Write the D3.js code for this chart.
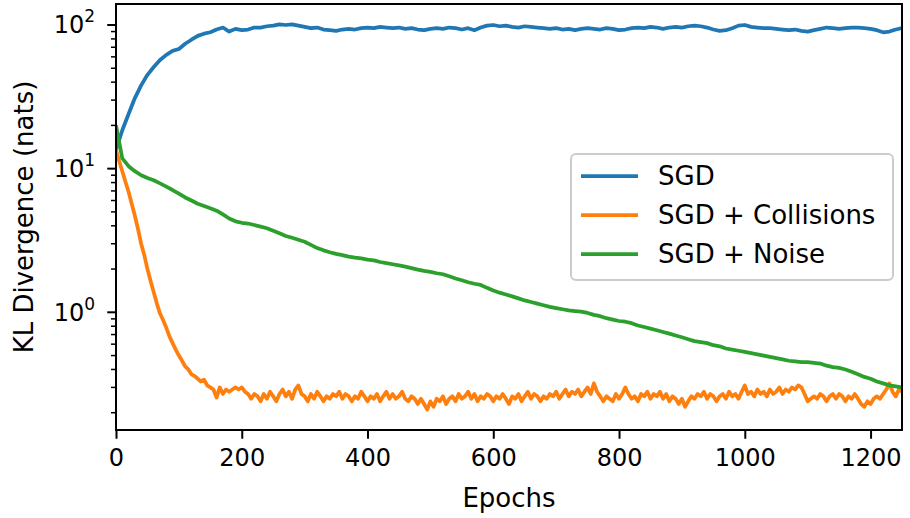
<!DOCTYPE html>
<html>
<head>
<meta charset="utf-8">
<script src="https://cdn.jsdelivr.net/npm/d3@7"></script>
<style>
  body { margin: 0; background: #fff; }
  svg { display: block; font-family: "DejaVu Sans", sans-serif; }
</style>
</head>
<body>
<div id="chart"></div>
<script>
// ---- data ----
var sgd_epochs = d3.range(0, 1251, 10);
var sgd_values = [
  13.5, 18.5, 24, 31, 38, 45, 51, 57, 62, 66,
  68, 74, 79, 84, 87, 89, 93, 96, 90, 94,
  92, 93, 96, 96, 98, 99, 101, 100, 101, 99,
  97, 95, 96, 93, 92, 91, 93, 94, 93, 95,
  96, 95, 97, 96, 95, 96, 94, 95, 93, 92,
  94, 95, 94, 96, 95, 93, 95, 92, 96, 99,
  100, 98, 99, 97, 96, 98, 97, 96, 95, 94,
  95, 93, 94, 92, 94, 95, 94, 93, 95, 94,
  92, 93, 95, 96, 95, 97, 96, 94, 96, 97,
  96, 98, 99, 98, 96, 93, 91, 92, 95, 99,
  100, 97, 96, 95, 95, 94, 93, 92, 93, 91,
  90, 92, 94, 96, 95, 94, 95, 96, 96, 95,
  94, 92, 89, 90, 93, 95
];

var coll_epochs = d3.range(0, 1251, 5);
var coll_values = [
  13.5, 11.3, 9.6, 8.1, 6.9, 5.7, 4.7, 3.8, 3.0, 2.5,
  2.0, 1.65, 1.38, 1.15, 0.98, 0.88, 0.78, 0.68, 0.61, 0.55,
  0.50, 0.46, 0.42, 0.40, 0.37, 0.36, 0.345, 0.33, 0.34, 0.31,
  0.30, 0.29, 0.255, 0.30, 0.27, 0.29, 0.28, 0.29, 0.30, 0.29,
  0.30, 0.28, 0.27, 0.25, 0.27, 0.26, 0.24, 0.27, 0.25, 0.28,
  0.26, 0.24, 0.27, 0.29, 0.26, 0.28, 0.25, 0.29, 0.31, 0.27,
  0.26, 0.24, 0.27, 0.25, 0.28, 0.26, 0.24, 0.26, 0.25, 0.27,
  0.26, 0.28, 0.25, 0.27, 0.26, 0.24, 0.26, 0.25, 0.28, 0.26,
  0.24, 0.26, 0.25, 0.27, 0.24, 0.26, 0.28, 0.25, 0.27, 0.25,
  0.26, 0.28, 0.25, 0.24, 0.26, 0.25, 0.23, 0.25, 0.23, 0.21,
  0.24, 0.22, 0.25, 0.24, 0.26, 0.23, 0.25, 0.26, 0.24, 0.27,
  0.25, 0.26, 0.28, 0.25, 0.27, 0.24, 0.26, 0.25, 0.27, 0.26,
  0.24, 0.26, 0.25, 0.27, 0.25, 0.23, 0.26, 0.25, 0.27, 0.24,
  0.26, 0.28, 0.25, 0.27, 0.26, 0.24, 0.26, 0.25, 0.27, 0.26,
  0.28, 0.25, 0.27, 0.29, 0.26, 0.28, 0.27, 0.29, 0.26, 0.28,
  0.30, 0.27, 0.32, 0.28, 0.26, 0.24, 0.26, 0.25, 0.24, 0.27,
  0.25, 0.27, 0.30, 0.27, 0.25, 0.26, 0.24, 0.27, 0.26, 0.28,
  0.25, 0.27, 0.26, 0.28, 0.25, 0.27, 0.24, 0.26, 0.25, 0.23,
  0.25, 0.22, 0.24, 0.26, 0.25, 0.27, 0.26, 0.28, 0.25, 0.27,
  0.26, 0.24, 0.26, 0.27, 0.25, 0.28, 0.26, 0.27, 0.25, 0.28,
  0.31, 0.27, 0.28, 0.26, 0.29, 0.27, 0.28, 0.26, 0.29, 0.27,
  0.28, 0.30, 0.27, 0.29, 0.28, 0.30, 0.29, 0.31, 0.30, 0.27,
  0.24, 0.25, 0.26, 0.25, 0.27, 0.26, 0.24, 0.26, 0.27, 0.25,
  0.27, 0.26, 0.24, 0.26, 0.25, 0.27, 0.25, 0.23, 0.22, 0.24,
  0.23, 0.25, 0.26, 0.25, 0.27, 0.29, 0.32, 0.28, 0.26, 0.29,
  0.28
];

var noise_epochs = d3.range(0, 1251, 10);
var noise_values = [
  20, 11.8, 10.4, 9.6, 9.0, 8.6, 8.3, 7.9, 7.5, 7.1,
  6.7, 6.3, 6.0, 5.7, 5.5, 5.3, 5.1, 4.8, 4.5, 4.3,
  4.2, 4.15, 4.05, 3.95, 3.85, 3.7, 3.55, 3.4, 3.3, 3.2,
  3.1, 2.95, 2.8, 2.7, 2.62, 2.55, 2.5, 2.44, 2.4, 2.37,
  2.33, 2.3, 2.24, 2.2, 2.16, 2.12, 2.08, 2.03, 1.98, 1.94,
  1.91, 1.87, 1.84, 1.78, 1.72, 1.67, 1.62, 1.58, 1.55, 1.48,
  1.42, 1.37, 1.33, 1.29, 1.25, 1.21, 1.18, 1.15, 1.12, 1.09,
  1.07, 1.05, 1.03, 1.02, 1.01, 0.99, 0.96, 0.94, 0.91, 0.89,
  0.87, 0.86, 0.84, 0.81, 0.79, 0.77, 0.75, 0.73, 0.71, 0.69,
  0.67, 0.65, 0.63, 0.62, 0.61, 0.59, 0.58, 0.56, 0.55, 0.54,
  0.53, 0.52, 0.51, 0.50, 0.49, 0.48, 0.47, 0.46, 0.455, 0.45,
  0.45, 0.445, 0.44, 0.425, 0.415, 0.41, 0.40, 0.385, 0.37, 0.355,
  0.345, 0.33, 0.32, 0.31, 0.305, 0.30
];

var series_names = ["SGD", "SGD + Collisions", "SGD + Noise"];
var series_colors = ["#1f77b4", "#ff7f0e", "#2ca02c"];
var x_ticks = [0, 200, 400, 600, 800, 1000, 1200];
var y_ticks = [1, 10, 100];

// ---- layout ----
var width = 910, height = 518;
var margin = {left: 116, right: 8, top: 4, bottom: 88};
var plot_w = width - margin.left - margin.right,
    plot_h = height - margin.top - margin.bottom;

var svg = d3.select("#chart").append("svg")
    .attr("width", width)
    .attr("height", height);

var x = d3.scaleLinear().domain([0, 1250]).range([0, plot_w]);
var y = d3.scaleLog().domain([0.1516, 140]).range([plot_h, 0]);

var g = svg.append("g")
    .attr("transform", "translate(" + margin.left + "," + margin.top + ")");

g.append("clipPath").attr("id", "clip")
  .append("rect").attr("width", plot_w).attr("height", plot_h);

var line = d3.line()
    .x(function(d) { return x(d[0]); })
    .y(function(d) { return y(d[1]); });

var all_series = [
  d3.zip(sgd_epochs, sgd_values),
  d3.zip(coll_epochs, coll_values),
  d3.zip(noise_epochs, noise_values)
];

all_series.forEach(function(s, i) {
  g.append("path")
      .datum(s)
      .attr("clip-path", "url(#clip)")
      .attr("fill", "none")
      .attr("stroke", series_colors[i])
      .attr("stroke-width", 3.75)
      .attr("stroke-linejoin", "round")
      .attr("stroke-linecap", "butt")
      .attr("d", line);
});

// ---- axes ----
var xAxis = g.append("g")
    .attr("transform", "translate(0," + plot_h + ")")
    .call(d3.axisBottom(x).tickValues(x_ticks).tickFormat(d3.format("d"))
        .tickSize(8.75).tickPadding(6));
xAxis.select(".domain").remove();
xAxis.selectAll("line").attr("stroke", "#000").attr("stroke-width", 2);
xAxis.selectAll("text")
    .attr("fill", "#000")
    .attr("font-size", 24)
    .attr("font-family", "DejaVu Sans")
    .attr("dy", null)
    .attr("y", 466 - margin.top - plot_h);

// minor y ticks
var minor = [];
[0.1, 1, 10].forEach(function(p) {
  d3.range(2, 10).forEach(function(k) {
    var v = k * p;
    if (v >= y.domain()[0] && v <= y.domain()[1]) minor.push(v);
  });
});
var yAxis = g.append("g");
yAxis.selectAll(".minor").data(minor).enter().append("line")
    .attr("x1", -5).attr("x2", 0)
    .attr("y1", function(d) { return y(d); })
    .attr("y2", function(d) { return y(d); })
    .attr("stroke", "#000").attr("stroke-width", 1.5);
yAxis.selectAll(".major").data(y_ticks).enter().append("line")
    .attr("x1", -8.75).attr("x2", 0)
    .attr("y1", function(d) { return y(d); })
    .attr("y2", function(d) { return y(d); })
    .attr("stroke", "#000").attr("stroke-width", 2);

var ylab = yAxis.selectAll(".ylab").data(y_ticks).enter().append("text")
    .attr("x", -21)
    .attr("y", function(d) { return y(d) + 8.5; })
    .attr("text-anchor", "end")
    .attr("font-size", 24)
    .attr("fill", "#000");
ylab.append("tspan").text("10");
ylab.append("tspan")
    .attr("font-size", 17)
    .attr("dy", -11)
    .text(function(d) { return Math.round(Math.log10(d)); });

// frame
g.append("rect")
    .attr("width", plot_w).attr("height", plot_h)
    .attr("fill", "none")
    .attr("stroke", "#000")
    .attr("stroke-width", 2);

// axis titles
svg.append("text")
    .attr("x", margin.left + plot_w / 2)
    .attr("y", 507)
    .attr("text-anchor", "middle")
    .attr("font-size", 26)
    .text("Epochs");

svg.append("text")
    .attr("transform", "translate(33," + (margin.top + plot_h / 2) + ") rotate(-90)")
    .attr("text-anchor", "middle")
    .attr("font-size", 26)
    .text("KL Divergence (nats)");

// ---- legend ----
var legend = svg.append("g").attr("transform", "translate(571,154)");
legend.append("rect")
    .attr("width", 322).attr("height", 126)
    .attr("rx", 5).attr("ry", 5)
    .attr("fill", "#fff").attr("fill-opacity", 0.8)
    .attr("stroke", "#cccccc").attr("stroke-width", 2);

series_names.forEach(function(name, i) {
  var ly = 22 + i * 39;
  legend.append("line")
      .attr("x1", 10).attr("x2", 67)
      .attr("y1", ly).attr("y2", ly)
      .attr("stroke", series_colors[i])
      .attr("stroke-width", 3.75);
  legend.append("text")
      .attr("x", 87)
      .attr("y", ly + 9)
      .attr("font-size", 26)
      .text(name);
});
</script>
</body>
</html>
